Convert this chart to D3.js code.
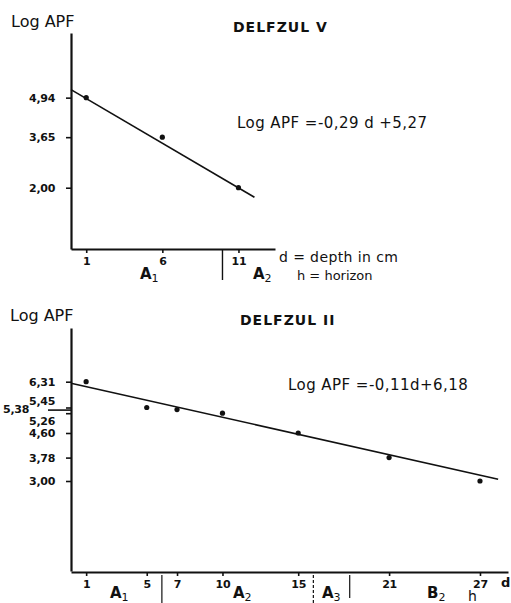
<!DOCTYPE html>
<html>
<head>
<meta charset="utf-8">
<script src="https://cdn.jsdelivr.net/npm/d3@7"></script>
<style>
  body { margin: 0; background: #fff; }
  svg { display: block; }
  text { font-family: "DejaVu Sans", sans-serif; fill: #111; }
  .tick text { font-family: "DejaVu Sans", sans-serif; font-weight: bold; font-size: 11px; letter-spacing: -0.3px; }
  .domain { stroke: #111; stroke-width: 2.2; }
  .tick line { stroke: #111; stroke-width: 1.6; }
</style>
</head>
<body>
<div id="chart"></div>
<script>
// ---- Delfzijl V ----
const depthV = [1, 6, 11];
const apfV = [4.94, 3.65, 2.00];
const yTicksV = [4.94, 3.65, 2.00];
const fitV = [[0, 5.2], [12.05, 1.69]];   // drawn regression line ends
const horizonDivV = [9.95];

// ---- Delfzijl II ----
const depthII = [1, 5, 7, 10, 15, 21, 27];
const apfII = [6.31, 5.45, 5.38, 5.26, 4.60, 3.78, 3.00];
const yTicksII = [6.31, 5.45, 5.38, 5.26, 4.60, 3.78, 3.00];
const fitII = [[0, 6.26], [28.2, 3.06]];
const horizonDivII = [6, 16, 18.4];

const comma = v => d3.format(".2f")(v).replace(".", ",");

const svg = d3.select("#chart").append("svg")
    .attr("width", 511)
    .attr("height", 603);

function subLabel(g, x, y, main, sub) {
    const t = g.append("text").attr("x", x).attr("y", y)
        .style("font-size", "15px").style("font-weight", "bold");
    t.append("tspan").text(main);
    t.append("tspan").attr("dy", 3).style("font-size", "11px").style("font-weight", "normal").text(sub);
    return t;
}

// ---------- top chart ----------
const xV = d3.scaleLinear().domain([0, 13.4]).range([71, 275]);
const yV = d3.scaleLinear().domain([0, 7.05]).range([249, 33]);

const gV = svg.append("g");

gV.append("g")
    .attr("transform", "translate(71,0)")
    .call(d3.axisLeft(yV).tickValues(yTicksV).tickFormat(comma).tickSize(5).tickPadding(11).tickSizeOuter(0));

gV.append("g")
    .attr("transform", "translate(0,249)")
    .call(d3.axisBottom(xV).tickValues(depthV).tickFormat(d3.format("d")).tickSize(4).tickPadding(4).tickSizeOuter(0));

gV.append("path")
    .datum(fitV)
    .attr("fill", "none").attr("stroke", "#111").attr("stroke-width", 1.6)
    .attr("d", d3.line().x(d => xV(d[0])).y(d => yV(d[1])));

gV.selectAll("circle")
    .data(depthV)
    .join("circle")
    .attr("cx", d => xV(d))
    .attr("cy", (d, i) => yV(apfV[i]))
    .attr("r", 2.6)
    .attr("fill", "#111");

gV.selectAll("line.div")
    .data(horizonDivV)
    .join("line")
    .attr("class", "div")
    .attr("x1", d => xV(d)).attr("x2", d => xV(d))
    .attr("y1", 250).attr("y2", 280)
    .attr("stroke", "#111").attr("stroke-width", 1.4);

gV.append("text").attr("x", 11).attr("y", 27).style("font-size", "16px").text("Log APF");
gV.append("text").attr("x", 233).attr("y", 32)
    .style("font-size", "14px").style("font-weight", "bold").style("letter-spacing", "1px")
    .text("DELFZUL V");
gV.append("text").attr("x", 237).attr("y", 128).style("font-size", "15px").style("letter-spacing", "0.45px")
    .text("Log APF =-0,29 d +5,27");
subLabel(gV, 140, 279, "A", "1");
subLabel(gV, 253, 279, "A", "2");
gV.append("text").attr("x", 279).attr("y", 262).style("font-size", "14px").style("letter-spacing", "0.4px").text("d =  depth in cm");
gV.append("text").attr("x", 297).attr("y", 280).style("font-size", "13px").text("h = horizon");

// ---------- bottom chart ----------
const xII = d3.scaleLinear().domain([0, 28.85]).range([71, 508]);
const yII = d3.scaleLinear().domain([0, 8.1]).range([571, 328]);

const gII = svg.append("g");

const yAxII = gII.append("g")
    .attr("transform", "translate(71,0)")
    .call(d3.axisLeft(yII).tickValues(yTicksII).tickFormat(comma).tickSize(5).tickPadding(11).tickSizeOuter(0));

// crowded labels around 5,4 moved apart like the original
yAxII.selectAll(".tick").filter(d => d === 5.45).select("text").attr("dy", "-0.3em");
yAxII.selectAll(".tick").filter(d => d === 5.26).select("text").attr("dy", "1.0em");
yAxII.selectAll(".tick").filter(d => d === 5.38).call(t => {
    t.select("line").attr("x2", -23);
    t.select("text").attr("x", -42).attr("dy", "0.3em");
});

gII.append("g")
    .attr("transform", "translate(0,572)")
    .call(d3.axisBottom(xII).tickValues(depthII).tickFormat(d3.format("d")).tickSize(4).tickPadding(4).tickSizeOuter(0));

gII.append("path")
    .datum(fitII)
    .attr("fill", "none").attr("stroke", "#111").attr("stroke-width", 1.6)
    .attr("d", d3.line().x(d => xII(d[0])).y(d => yII(d[1])));

gII.selectAll("circle")
    .data(depthII)
    .join("circle")
    .attr("cx", d => xII(d))
    .attr("cy", (d, i) => yII(apfII[i]))
    .attr("r", 2.6)
    .attr("fill", "#111");

gII.selectAll("line.div")
    .data(horizonDivII)
    .join("line")
    .attr("class", "div")
    .attr("x1", d => xII(d)).attr("x2", d => xII(d))
    .attr("y1", 575).attr("y2", (d, i) => i === 2 ? 598 : 603)
    .attr("stroke", "#111").attr("stroke-width", 1.2)
    .attr("stroke-dasharray", (d, i) => i === 1 ? "3,2" : null);

gII.append("text").attr("x", 10).attr("y", 321).style("font-size", "16px").text("Log APF");
gII.append("text").attr("x", 240).attr("y", 325)
    .style("font-size", "14px").style("font-weight", "bold").style("letter-spacing", "1px")
    .text("DELFZUL II");
gII.append("text").attr("x", 288).attr("y", 390).style("font-size", "15px").style("letter-spacing", "0.45px")
    .text("Log APF =-0,11d+6,18");
subLabel(gII, 110, 598, "A", "1");
subLabel(gII, 233, 598, "A", "2");
subLabel(gII, 322, 598, "A", "3");
subLabel(gII, 427, 598, "B", "2");
gII.append("text").attr("x", 468).attr("y", 601).style("font-size", "14px").text("h");
gII.append("text").attr("x", 501).attr("y", 587).style("font-size", "13px").style("font-weight", "bold").text("d");
</script>
</body>
</html>
